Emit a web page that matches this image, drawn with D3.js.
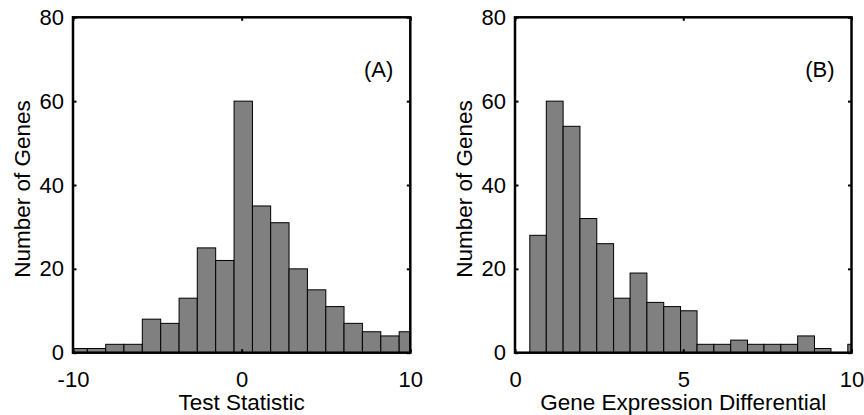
<!DOCTYPE html>
<html>
<head>
<meta charset="utf-8">
<script src="https://cdn.jsdelivr.net/npm/d3@7"></script>
<style>
  html, body { margin: 0; padding: 0; background: #fff; }
  svg { display: block; font-family: "Liberation Sans", Arial, Helvetica, sans-serif; }
</style>
</head>
<body>
<svg id="chart" width="864" height="415"></svg>
<script>
// ---- Data ----
// Panel A: Test Statistic histogram
const binEdgesA = [-10.24, -9.15, -8.06, -6.98, -5.89, -4.80, -3.71, -2.63, -1.54, -0.45,
                   0.64, 1.72, 2.81, 3.90, 4.99, 6.07, 7.16, 8.25, 9.34, 10.42];
const countsA   = [1, 1, 2, 2, 8, 7, 13, 25, 22, 60, 35, 31, 20, 15, 11, 7, 5, 4, 5];
const xTicksA   = [-10, 0, 10];
const xDomainA  = [-10, 10];
const xLabelA   = "Test Statistic";
const tagA      = "(A)";

// Panel B: Gene Expression Differential histogram
const binEdgesB = [0.44, 0.93, 1.43, 1.93, 2.43, 2.93, 3.42, 3.92, 4.42, 4.92, 5.41,
                   5.91, 6.41, 6.91, 7.40, 7.90, 8.40, 8.90, 9.39, 9.89, 10.39];
const countsB   = [28, 60, 54, 32, 26, 13, 19, 12, 11, 10, 2, 2, 3, 2, 2, 2, 4, 1, 0, 2];
const xTicksB   = [0, 5, 10];
const xDomainB  = [0, 10];
const xLabelB   = "Gene Expression Differential";
const tagB      = "(B)";

// Shared y axis
const yTicks  = [0, 20, 40, 60, 80];
const yDomain = [0, 80];
const yLabel  = "Number of Genes";

// ---- Drawing ----
const svg = d3.select("#chart");
const plotTop = 17.3, plotBottom = 352.7;
const fmt = d => String(d);   // plain hyphen-minus like the reference

function drawPanel(id, left, right, edges, counts, xDomain, xTicks, xLabel, tag) {
  const x = d3.scaleLinear().domain(xDomain).range([left, right]);
  const y = d3.scaleLinear().domain(yDomain).range([plotBottom, plotTop]);
  const g = svg.append("g");

  const bins = counts.map((c, i) => ({ x0: edges[i], x1: edges[i + 1], n: c }));

  svg.append("defs").append("clipPath").attr("id", "clip" + id)
    .append("rect").attr("x", left).attr("y", plotTop).attr("width", right - left).attr("height", plotBottom - plotTop);

  g.append("g").attr("clip-path", `url(#clip${id})`)
    .selectAll("rect").data(bins.filter(d => d.n > 0)).join("rect")
    .attr("x", d => x(d.x0))
    .attr("width", d => x(d.x1) - x(d.x0))
    .attr("y", d => y(d.n))
    .attr("height", d => y(0) - y(d.n))
    .attr("fill", "#808080")
    .attr("stroke", "#000")
    .attr("stroke-width", 1);

  // Axes via d3 axis generators (labels), with MATLAB-style inward ticks
  const tl = 3.5;
  const axL = d3.axisLeft(y).tickValues(yTicks).tickSize(-tl).tickPadding(9).tickFormat(fmt);
  const axR = d3.axisRight(y).tickValues(yTicks).tickSize(-tl).tickFormat("");
  const axB = d3.axisBottom(x).tickValues(xTicks).tickSize(-tl).tickPadding(19).tickFormat(fmt);
  const axT = d3.axisTop(x).tickValues(xTicks).tickSize(-tl).tickFormat("");

  const styleAxis = (sel) => {
    sel.select(".domain").remove();
    sel.selectAll(".tick line").attr("stroke", "#000").attr("stroke-width", 2);
    sel.selectAll("text").attr("fill", "#000").style("font-size", "22px")
      .style("font-family", '"Liberation Sans", Arial, sans-serif');
  };
  g.append("g").attr("transform", `translate(${left},0)`).call(axL).call(styleAxis);
  g.append("g").attr("transform", `translate(${right},0)`).call(axR).call(styleAxis);
  const gb = g.append("g").attr("transform", `translate(0,${plotBottom})`).call(axB).call(styleAxis);
  gb.selectAll("text").attr("dy", "0.71em");
  g.append("g").attr("transform", `translate(0,${plotTop})`).call(axT).call(styleAxis);

  // Box
  g.append("rect").attr("x", left).attr("y", plotTop).attr("width", right - left).attr("height", plotBottom - plotTop)
    .attr("fill", "none").attr("stroke", "#000").attr("stroke-width", 2.5);

  // Axis labels
  g.append("text").attr("x", (left + right) / 2).attr("y", 410)
    .attr("text-anchor", "middle").style("font-size", "22.5px").attr("fill", "#000").text(xLabel);
  g.append("text").attr("transform", `translate(${left - 43.5},${(plotTop + plotBottom) / 2 + 4}) rotate(-90)`)
    .attr("text-anchor", "middle").style("font-size", "22.5px").attr("fill", "#000").text(yLabel);

  // Panel tag
  g.append("text").attr("x", right - 17).attr("y", 77)
    .attr("text-anchor", "end").style("font-size", "22px").attr("fill", "#000").text(tag);
}

drawPanel("A", 73, 410.3, binEdgesA, countsA, xDomainA, xTicksA, xLabelA, tagA);
drawPanel("B", 515, 851.5, binEdgesB, countsB, xDomainB, xTicksB, xLabelB, tagB);
</script>
</body>
</html>
